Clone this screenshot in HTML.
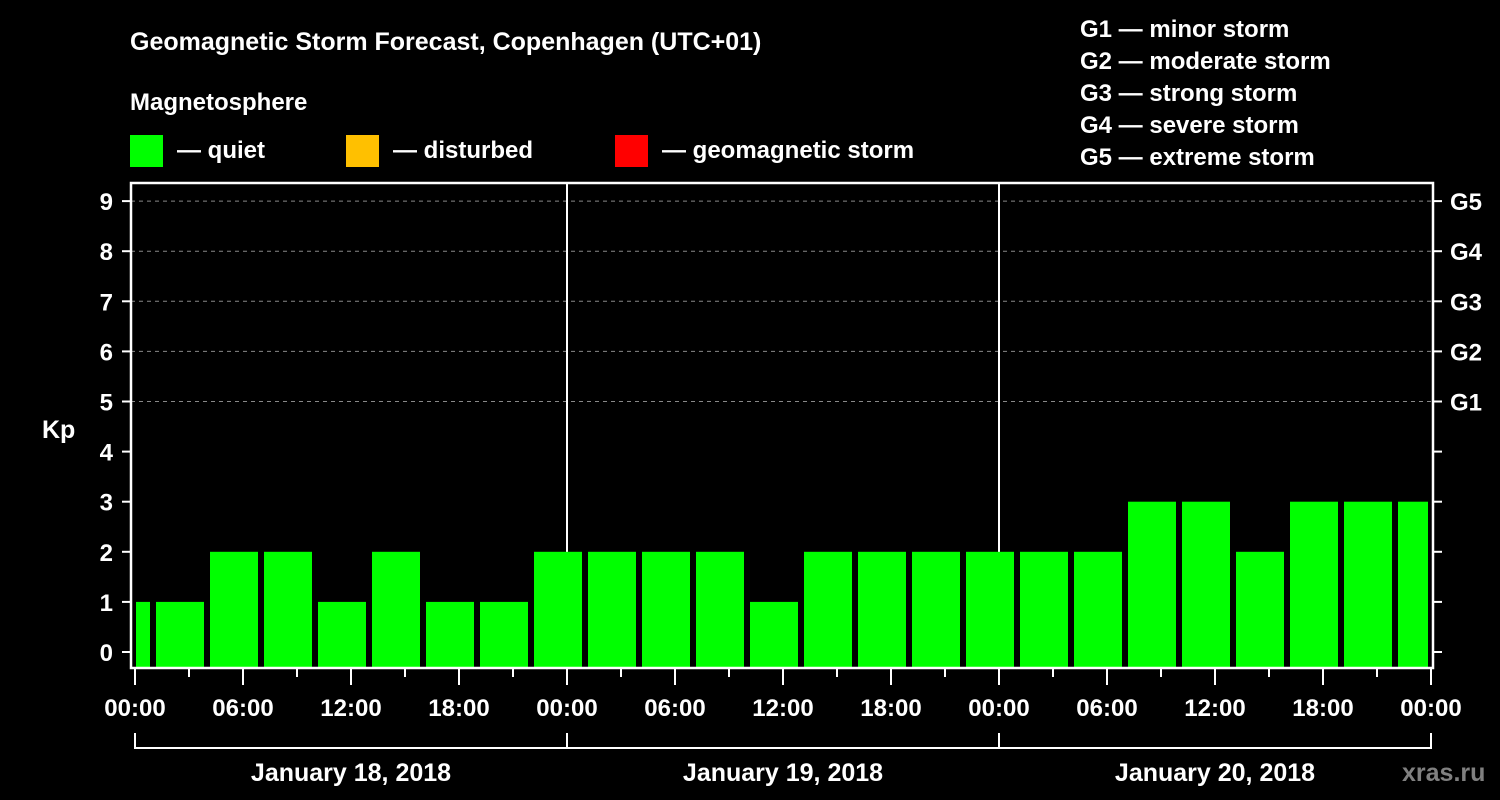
<!DOCTYPE html>
<html><head><meta charset="utf-8"><style>
html,body{margin:0;padding:0;background:#000;}
svg{display:block;font-family:"Liberation Sans",Arial,sans-serif;font-weight:bold;}
</style></head><body>
<svg id="chart" width="1500" height="800" viewBox="0 0 1500 800" xmlns="http://www.w3.org/2000/svg">
<rect width="1500" height="800" fill="#000"/>
<text x="130" y="50" fill="#fff" font-size="25">Geomagnetic Storm Forecast, Copenhagen (UTC+01)</text>
<text x="130" y="110" fill="#fff" font-size="24">Magnetosphere</text>
<g>
<rect x="130" y="135" width="33" height="32" fill="#00ff00"/>
<text x="177" y="158" fill="#fff" font-size="24">— quiet</text>
<rect x="346" y="135" width="33" height="32" fill="#ffc000"/>
<text x="393" y="158" fill="#fff" font-size="24">— disturbed</text>
<rect x="615" y="135" width="33" height="32" fill="#ff0000"/>
<text x="662" y="158" fill="#fff" font-size="24">— geomagnetic storm</text>
</g>
<g fill="#fff" font-size="24">
<text x="1080" y="37">G1 — minor storm</text>
<text x="1080" y="69">G2 — moderate storm</text>
<text x="1080" y="101">G3 — strong storm</text>
<text x="1080" y="133">G4 — severe storm</text>
<text x="1080" y="165">G5 — extreme storm</text>
</g>
<text x="42" y="438" fill="#fff" font-size="25">Kp</text>
<text x="1402" y="781" fill="#808080" font-size="25">xras.ru</text>
<g id="grid"></g>
<g id="bars"></g>
<g id="axes"></g>
</svg>
<script>
const barStartHours = [-2,1,4,7,10,13,16,19,22,25,28,31,34,37,40,43,46,49,52,55,58,61,64,67,70];
const kpValues = [1,1,2,2,1,2,1,1,2,2,2,2,1,2,2,2,2,2,2,3,3,2,3,3,3];
const yTicks = [0,1,2,3,4,5,6,7,8,9];
const gLabels = ["","","","","","G1","G2","G3","G4","G5"];
const xTickLabels = ["00:00","06:00","12:00","18:00","00:00","06:00","12:00","18:00","00:00","06:00","12:00","18:00","00:00"];
const dayLabels = ["January 18, 2018","January 19, 2018","January 20, 2018"];
const totalHours = 72;

const NS = "http://www.w3.org/2000/svg";
const X0 = 135, X1 = 1431, PL = 131, PR = 1433, PT = 183, PB = 668;
const xs = h => X0 + (X1 - X0) * h / totalHours;
const ys = v => 652 - v * 50.1;
function mk(tag, attrs, parent, text) {
  const e = document.createElementNS(NS, tag);
  for (const k in attrs) e.setAttribute(k, attrs[k]);
  if (text !== undefined) e.textContent = text;
  document.getElementById(parent).appendChild(e);
  return e;
}
// grid
yTicks.forEach(v => {
  if (v >= 5) {
    const l = mk('line', {x1: PL, x2: PR, y1: ys(v), y2: ys(v), stroke: '#888', 'stroke-width': 1, 'stroke-dasharray': '4,4'}, 'grid');
    
    
  }
});
for (let d = 1; d < dayLabels.length; d++) {
  const l = mk('line', {x1: xs(d * 24), x2: xs(d * 24), y1: PT, y2: PB, stroke: '#fff', 'stroke-width': 2}, 'grid');
  
  
}
// bars
barStartHours.forEach((h, i) => {
  const a = Math.max(0, h), b = Math.min(totalHours, h + 3);
  let x1 = xs(a) + (h < 0 ? 1 : 3), x2 = xs(b) - 3;
  const v = kpValues[i];
  const col = v >= 5 ? '#ff0000' : (v >= 4 ? '#ffc000' : '#00ff00');
  const r = mk('rect', {x: x1, y: ys(v), width: x2 - x1, height: PB - ys(v), fill: col}, 'bars');
  
  
});
// frame
const f = mk('rect', {x: PL, y: PT, width: PR - PL, height: PB - PT, fill: 'none', stroke: '#fff', 'stroke-width': 2.5}, 'axes');


// y ticks
yTicks.forEach((v, i) => {
  const y = ys(v);
  mk('line', {x1: 122, x2: PL, y1: y, y2: y, stroke: '#fff', 'stroke-width': 2}, 'axes');
  mk('line', {x1: PR, x2: 1442, y1: y, y2: y, stroke: '#fff', 'stroke-width': 2}, 'axes');
  const t = mk('text', {x: 113, y: y + 9, fill: '#fff', 'font-size': 24, 'text-anchor': 'end'}, 'axes', String(v));
  
  
  if (gLabels[i]) {
    const g = mk('text', {x: 1450, y: y + 9, fill: '#fff', 'font-size': 24}, 'axes', gLabels[i]);
    
    
  }
});
// x ticks
for (let h = 0; h <= totalHours; h += 3) {
  const major = h % 6 === 0;
  mk('line', {x1: xs(h), x2: xs(h), y1: PB, y2: major ? 685 : 677, stroke: '#fff', 'stroke-width': 2}, 'axes');
}
xTickLabels.forEach((lab, i) => {
  const t = mk('text', {x: xs(i * 6), y: 716, fill: '#fff', 'font-size': 24, 'text-anchor': 'middle'}, 'axes', lab);
  
  
});
// day bracket
mk('line', {x1: X0, x2: X1, y1: 748, y2: 748, stroke: '#fff', 'stroke-width': 2}, 'axes');
for (let d = 0; d <= dayLabels.length; d++) {
  mk('line', {x1: xs(d * 24), x2: xs(d * 24), y1: 733, y2: 749, stroke: '#fff', 'stroke-width': 2}, 'axes');
}
dayLabels.forEach((lab, d) => {
  const t = mk('text', {x: xs(d * 24 + 12), y: 781, fill: '#fff', 'font-size': 25, 'text-anchor': 'middle'}, 'axes', lab);
  
  
});
</script>
</body></html>
